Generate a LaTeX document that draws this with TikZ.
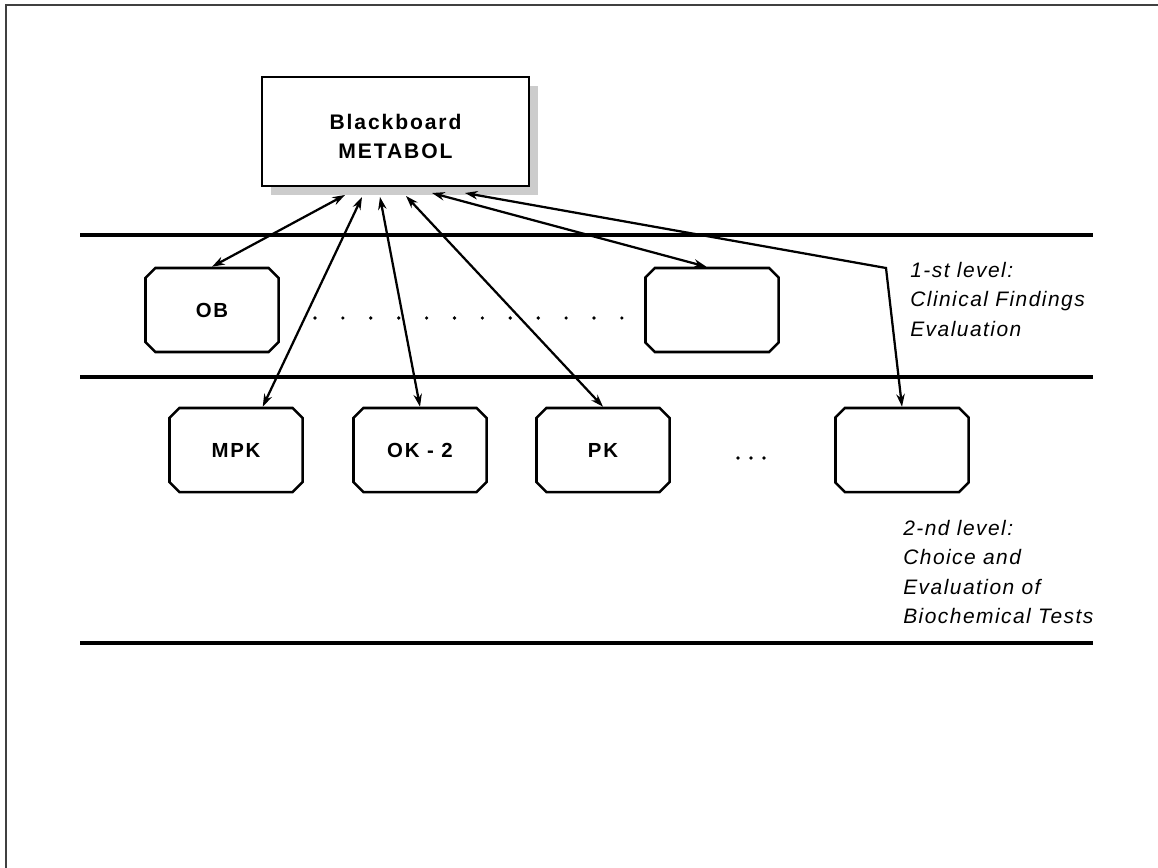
\documentclass[tikz,border=0pt]{standalone}
\usepackage{fontspec}
\newfontfamily\boxfont[LetterSpace=9]{Liberation Sans}
\newfontfamily\levelfont[LetterSpace=7]{Liberation Sans}
\usetikzlibrary{shapes.misc,arrows.meta,shadows,positioning}

\begin{document}
\begin{tikzpicture}[
        x=0.025cm, y=-0.025cm,
        board/.style={rectangle, draw, line width=1.8pt, fill=white, minimum width=6.675cm, minimum height=2.725cm, text height=38pt, align=center, font=\boxfont\bfseries\fontsize{15}{20}\selectfont, general shadow={fill=gray!40, shadow xshift=6.4pt, shadow yshift=-6.4pt}},
        agent/.style={chamfered rectangle, chamfered rectangle xsep=3.5pt, chamfered rectangle ysep=3.5pt, draw, line width=1.8pt, minimum width=3.325cm, minimum height=2.1cm, font=\boxfont\bfseries\fontsize{14.5}{16}\selectfont},
        level/.style={line width=2.6pt},
        link/.style={line width=1.6pt, {Stealth[length=9pt,width=6pt]}-{Stealth[length=9pt,width=6pt]}},
        note/.style={align=left, inner sep=0pt, anchor=north west, font=\levelfont\itshape\fontsize{14.9}{20.9}\selectfont}
    ]
        \useasboundingbox (0,0) rectangle (1158,868);
        % Frame
        \draw[line width=1.4pt, black!75] (6,868) -- (6,5) -- (1158,5);
        
        % Level lines
        \draw[level] (80,235) -- (1093,235);
        \draw[level] (80,377) -- (1093,377);
        \draw[level] (80,643) -- (1093,643);
        
        % Blackboard
        \node[board] (bb) at (395.5,131.5) {Blackboard\\METABOL};
        
        % 1-st level
        \node[agent] (ob) at (212,310) {OB};
        \node[agent] (e1) at (712,310) {};
        \foreach \i in {0,...,11}
            \fill (315+27.9*\i,318) circle (1.3pt);
        
        % 2-nd level
        \node[agent] (mpk) at (236,450) {MPK};
        \node[agent] (ok) at (420,450) {OK - 2};
        \node[agent] (pk) at (603,450) {PK};
        \node[agent] (e2) at (902,450) {};
        \foreach \x in {738,751,764}
            \fill (\x,458) circle (1.3pt);
        
        % Labels
        \node[note] (lev1) at (910,262) {1-st level:\\Clinical Findings\\Evaluation};
        \node[note] (lev2) at (903,520) {2-nd level:\\Choice and\\Evaluation of\\Biochemical Tests};
        
        % Connections
        \coordinate (bb-ob) at (345,195);
        \coordinate (bb-mpk) at (362,197);
        \coordinate (bb-ok) at (380,197);
        \coordinate (bb-pk) at (406,196);
        \coordinate (bb-e1) at (432,193);
        \coordinate (bb-e2) at (465,193);
        \coordinate (bend) at (886,268);
        \draw[link] (bb-ob) -- (ob.north);
        \draw[link] (bb-mpk) -- ([xshift=19pt]mpk.north);
        \draw[link] (bb-ok) -- (ok.north);
        \draw[link] (bb-pk) -- (pk.north);
        \draw[link] (bb-e1) -- ([xshift=-4pt]e1.north);
        \draw[link] (bb-e2) -- (bend) -- (e2.north);
    \end{tikzpicture}
\end{document}
